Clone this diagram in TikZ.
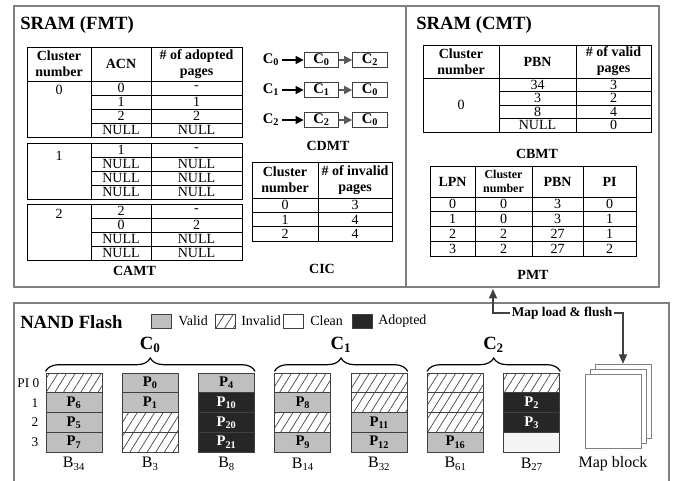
\documentclass[tikz,border=0pt]{standalone}
\usepackage{fontspec}
\setmainfont{Liberation Serif}
\usetikzlibrary{arrows.meta,patterns.meta,decorations.pathreplacing}
\definecolor{validc}{HTML}{BFBFBF}
\definecolor{adoptc}{HTML}{262626}
\definecolor{framec}{HTML}{808080}
\definecolor{linec}{HTML}{404040}
\definecolor{cleanc}{HTML}{F5F5F5}
\definecolor{arrgray}{HTML}{5A5A5A}
\tikzset{
  panel/.style={draw=framec, line width=0.8pt},
  tl/.style={draw=black, line width=0.75pt},
  txt/.style={font=\fontsize{10.5}{12}\selectfont, inner sep=0pt},
  hd/.style={font=\bfseries\fontsize{10.5}{12}\selectfont, align=center, inner sep=0pt},
  hds/.style={font=\bfseries\fontsize{9}{10}\selectfont, align=center, inner sep=0pt},
  ttl/.style={font=\bfseries\fontsize{14}{16}\selectfont, inner sep=0pt, anchor=west},
  capt/.style={font=\bfseries\fontsize{10.5}{12}\selectfont, inner sep=0pt},
  cellbase/.style={draw=linec, line width=0.7pt, minimum width=42pt, minimum height=14.8pt, inner sep=0pt, font=\bfseries\fontsize{11}{12}\selectfont},
  vcell/.style={cellbase, fill=validc},
  acell/.style={cellbase, fill=adoptc, text=white},
  icell/.style={cellbase, pattern={Lines[angle=58,distance=5.5pt,line width=0.5pt]}, pattern color=linec},
  ccell/.style={cellbase, fill=cleanc},
  legbox/.style={draw=linec, line width=0.7pt, minimum width=15pt, minimum height=10.5pt, inner sep=0pt},
  legtxt/.style={font=\fontsize{10.5}{12}\selectfont, inner sep=0pt, anchor=west},
  blab/.style={font=\fontsize{12}{14}\selectfont, inner sep=0pt},
  clab/.style={font=\bfseries\fontsize{14}{16}\selectfont, inner sep=0pt},
  cdbox/.style={draw=linec, line width=0.8pt, fill=white, minimum width=26pt, minimum height=11pt, inner sep=0pt, font=\bfseries\fontsize{11}{12}\selectfont},
  cdlab/.style={font=\bfseries\fontsize{11}{12}\selectfont, inner sep=0pt},
  cdarrA/.style={draw=black, line width=0.8pt, -{Triangle[length=6pt,width=6pt]}},
  cdarrB/.style={draw=arrgray, line width=0.8pt, -{Triangle[length=6pt,width=6pt]}},
  maparr/.style={draw=linec, line width=0.9pt, -{Triangle[length=7pt,width=6pt]}},
  mpage/.style={draw=framec, line width=0.7pt, fill=white, minimum width=42pt, minimum height=56pt, inner sep=0pt},
  brc/.style={decorate, decoration={brace, amplitude=10pt, aspect=0.5}, line width=0.9pt},
  pil/.style={font=\fontsize{10}{12}\selectfont, inner sep=0pt},
  mlflab/.style={font=\bfseries\fontsize{10}{12}\selectfont, inner sep=1pt, fill=white}
}
\newcommand\camtgroup[4]{%
  \draw[tl] (27,#1) rectangle (242,#1+56);
  \draw[tl] (91,#1) -- (91,#1+56);
  \draw[tl] (151,#1) -- (151,#1+56);
  \foreach \k in {1,2,3} \draw[tl] (91,#1+14*\k) -- (242,#1+14*\k);
  \node[txt] (cn-#1) at (59,#1+#3) {#2};
  \foreach \a/\b [count=\k] in {#4} {
    \node[txt] (ca-#1-\k) at (121,#1+14*\k-7) {\a};
    \node[txt] (cp-#1-\k) at (196.5,#1+14*\k-7) {\b};
  }
}
\begin{document}
\begin{tikzpicture}[x=0.75pt,y=-0.75pt]
\useasboundingbox (0,0) rectangle (678,480);
\fill[white] (0,0) rectangle (678,480);

% ---------- panels
\draw[panel] (14,6) rectangle (406,287);
\draw[panel] (406,6) rectangle (659,287);
\draw[panel] (14,303) rectangle (669,483);

\node[ttl] (tfmt) at (20,25) {SRAM (FMT)};
\node[ttl] (tcmt) at (416,25) {SRAM (CMT)};
\node[ttl] (tnand) at (20,322) {NAND Flash};

% ---------- CAMT
\draw[tl] (27,47) rectangle (242,81);
\draw[tl] (91,47) -- (91,81) (151,47) -- (151,81);
\node[hd] (camth1) at (59,64) {Cluster\\number};
\node[hd] (camth2) at (121,64) {ACN};
\node[hd] (camth3) at (196.5,64) {\# of adopted\\pages};
\camtgroup{81}{0}{9}{0/-, 1/1, 2/2, NULL/NULL}
\camtgroup{143}{1}{13}{1/-, NULL/NULL, NULL/NULL, NULL/NULL}
\camtgroup{204}{2}{10}{2/-, 0/2, NULL/NULL, NULL/NULL}
\node[capt] (camt) at (134.5,271) {CAMT};

% ---------- CDMT
\foreach \r/\yy/\p/\q in {0/60/0/2, 1/90/1/0, 2/120/2/0} {
  \node[cdlab] (cdl\r) at (271,\yy) {C\textsubscript{\r}};
  \node[cdbox] (cda\r) at (321.5,\yy) {C\textsubscript{\p}};
  \node[cdbox] (cdb\r) at (370,\yy) {C\textsubscript{\q}};
  \draw[cdarrA] ([xshift=2pt]cdl\r.east) -- (cda\r.west);
  \draw[cdarrB] (cda\r.east) -- (cdb\r.west);
}
\node[capt] (cdmt) at (328,146) {CDMT};

% ---------- CIC
\draw[tl] (252,162) rectangle (392,241);
\draw[tl] (318,162) -- (318,241);
\foreach \yy in {198,212.3,226.6} \draw[tl] (252,\yy) -- (392,\yy);
\node[hd] (cich1) at (285,180) {Cluster\\number};
\node[hd] (cich2) at (355,180) {\# of invalid\\pages};
\foreach \a/\b [count=\k] in {0/3,1/4,2/4} {
  \node[txt] (cic-a\k) at (285,198+14.3*\k-7.15) {\a};
  \node[txt] (cic-b\k) at (355,198+14.3*\k-7.15) {\b};
}
\node[capt] (cic) at (322,269) {CIC};

% ---------- CBMT
\draw[tl] (423,45) rectangle (651,132);
\draw[tl] (499,45) -- (499,132) (576,45) -- (576,132);
\draw[tl] (423,78) -- (651,78);
\foreach \yy in {91.5,105,118.5} \draw[tl] (499,\yy) -- (651,\yy);
\node[hd] (cbh1) at (461,61.5) {Cluster\\number};
\node[hd] (cbh2) at (537.5,61.5) {PBN};
\node[hd] (cbh3) at (613.5,61.5) {\# of valid\\pages};
\node[txt] (cb0) at (461,105) {0};
\foreach \a/\b [count=\k] in {34/3, 3/2, 8/4, NULL/0} {
  \node[txt] (cb-a\k) at (537.5,78+13.5*\k-6.75) {\a};
  \node[txt] (cb-b\k) at (613.5,78+13.5*\k-6.75) {\b};
}
\node[capt] (cbmt) at (537,154) {CBMT};

% ---------- PMT
\draw[tl] (430,166) rectangle (636,256);
\draw[tl] (475,166) -- (475,256) (532,166) -- (532,256) (583,166) -- (583,256);
\foreach \yy in {197,211.75,226.5,241.25} \draw[tl] (430,\yy) -- (636,\yy);
\node[hd] (pmh1) at (452.5,181.5) {LPN};
\node[hds] (pmh2) at (503.5,181.5) {Cluster\\number};
\node[hd] (pmh3) at (557.5,181.5) {PBN};
\node[hd] (pmh4) at (609.5,181.5) {PI};
\foreach \a/\b/\c/\d [count=\k] in {0/0/3/0, 1/0/3/1, 2/2/27/1, 3/2/27/2} {
  \node[txt] (pm-a\k) at (452.5,197+14.75*\k-7.375) {\a};
  \node[txt] (pm-b\k) at (503.5,197+14.75*\k-7.375) {\b};
  \node[txt] (pm-c\k) at (557.5,197+14.75*\k-7.375) {\c};
  \node[txt] (pm-d\k) at (609.5,197+14.75*\k-7.375) {\d};
}
\node[capt] (pmt) at (533,275) {PMT};

% ---------- legend
\node[legbox, fill=validc] (lgv) at (161,321) {};
\node[legtxt] (lgvt) at (178,321) {Valid};
\node[legbox, pattern={Lines[angle=58,distance=5.5pt,line width=0.5pt]}, pattern color=linec] (lgi) at (225,321) {};
\node[legtxt] (lgit) at (241,321) {Invalid};
\node[legbox, fill=white] (lgc) at (293,321) {};
\node[legtxt] (lgct) at (310,321) {Clean};
\node[legbox, fill=adoptc] (lga) at (362,321) {};
\node[legtxt] (lgat) at (378,321) {Adopted};

% ---------- PI labels
\node[pil, anchor=east] (pi0) at (39.5,383) {PI 0};
\node[pil] (pi1) at (35,402.75) {1};
\node[pil] (pi2) at (35,422.5) {2};
\node[pil] (pi3) at (35,442.25) {3};

% ---------- blocks
% B34
\node[icell] (b34a) at (74,383) {};
\node[vcell] (b34b) at (74,402.75) {P\textsubscript{6}};
\node[vcell] (b34c) at (74,422.5) {P\textsubscript{5}};
\node[vcell] (b34d) at (74,442.25) {P\textsubscript{7}};
% B3
\node[vcell] (b3a) at (150.3,383) {P\textsubscript{0}};
\node[vcell] (b3b) at (150.3,402.75) {P\textsubscript{1}};
\node[icell] (b3c) at (150.3,422.5) {};
\node[icell] (b3d) at (150.3,442.25) {};
% B8
\node[vcell] (b8a) at (226.6,383) {P\textsubscript{4}};
\node[acell] (b8b) at (226.6,402.75) {P\textsubscript{10}};
\node[acell] (b8c) at (226.6,422.5) {P\textsubscript{20}};
\node[acell] (b8d) at (226.6,442.25) {P\textsubscript{21}};
% B14
\node[icell] (b14a) at (302.9,383) {};
\node[vcell] (b14b) at (302.9,402.75) {P\textsubscript{8}};
\node[icell] (b14c) at (302.9,422.5) {};
\node[vcell] (b14d) at (302.9,442.25) {P\textsubscript{9}};
% B32
\node[icell] (b32a) at (379.2,383) {};
\node[icell] (b32b) at (379.2,402.75) {};
\node[vcell] (b32c) at (379.2,422.5) {P\textsubscript{11}};
\node[vcell] (b32d) at (379.2,442.25) {P\textsubscript{12}};
% B61
\node[icell] (b61a) at (455.5,383) {};
\node[icell] (b61b) at (455.5,402.75) {};
\node[icell] (b61c) at (455.5,422.5) {};
\node[vcell] (b61d) at (455.5,442.25) {P\textsubscript{16}};
% B27
\node[icell] (b27a) at (531.8,383) {};
\node[acell] (b27b) at (531.8,402.75) {P\textsubscript{2}};
\node[acell] (b27c) at (531.8,422.5) {P\textsubscript{3}};
\node[ccell] (b27d) at (531.8,442.25) {};

% block labels
\node[blab] (lb34) at (74,464) {B\textsubscript{34}};
\node[blab] (lb3) at (150.3,464) {B\textsubscript{3}};
\node[blab] (lb8) at (226.6,464) {B\textsubscript{8}};
\node[blab] (lb14) at (302.9,464) {B\textsubscript{14}};
\node[blab] (lb32) at (379.2,464) {B\textsubscript{32}};
\node[blab] (lb61) at (455.5,464) {B\textsubscript{61}};
\node[blab] (lb27) at (531.8,464) {B\textsubscript{27}};

% braces
\draw[brc] ([yshift=1pt]b34a.north west) -- ([yshift=1pt]b8a.north east);
\draw[brc] ([yshift=1pt]b14a.north west) -- ([yshift=1pt]b32a.north east);
\draw[brc] ([yshift=1pt]b61a.north west) -- ([yshift=1pt]b27a.north east);
\node[clab] (c0) at (150.3,345) {C\textsubscript{0}};
\node[clab] (c1) at (341,345) {C\textsubscript{1}};
\node[clab] (c2) at (493.6,345) {C\textsubscript{2}};

% map block pages
\node[mpage] (mapc) at (623,401.5) {};
\node[mpage] (mapb) at (618,406.5) {};
\node[mpage] (mapa) at (613,411.5) {};
\node[blab] (lmap) at (613,464) {Map block};

% map load & flush
\coordinate (mlfup) at (493,289);
\node[mlflab] (mlf) at (562,313) {Map load \& flush};
\draw[maparr] (mlf.west) -| (mlfup);
\draw[maparr] (mlf.east) -| (mapc.north);
\end{tikzpicture}
\end{document}
